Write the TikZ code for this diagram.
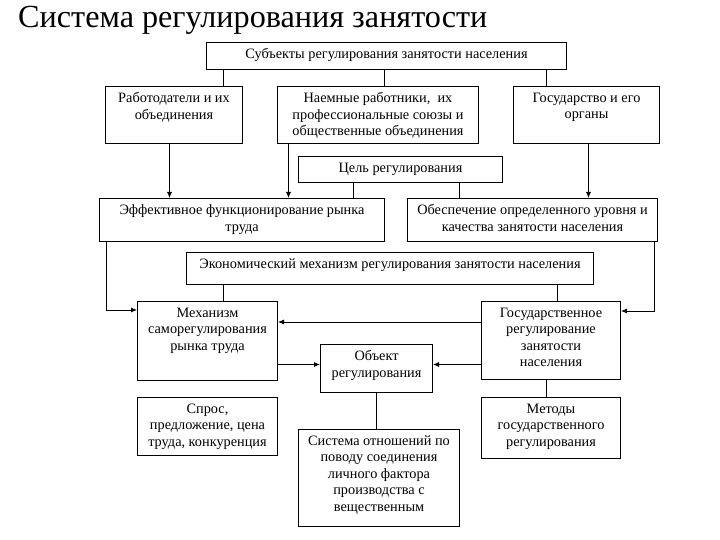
\documentclass[tikz,border=0pt]{standalone}
\usepackage{fontspec}
\setmainfont{Liberation Serif}
\usetikzlibrary{positioning, arrows.meta, calc}

\tikzset{
  box/.style={draw, line width=1bp, inner sep=0pt, anchor=north west},
  txt/.style={anchor=north, align=center, inner sep=0pt, font=\fontsize{14.3bp}{16.5bp}\selectfont},
  link/.style={line width=0.8bp},
  arr/.style={line width=0.8bp, -{Latex[length=6bp, width=5bp]}}
}

\begin{document}
\begin{tikzpicture}[x=1bp, y=-1bp]
\useasboundingbox (0,0) rectangle (720,540);

\node[anchor=base west, inner sep=0pt, font=\fontsize{32.2bp}{36bp}\selectfont] (title) at (18,28) {Система регулирования занятости};

% Subjects
\node[box, minimum width=360bp, minimum height=27bp] (subj) at (206,42) {};
\node[txt, below=6.5bp of subj.north] (subjtxt) {Субъекты регулирования занятости населения};

\node[box, minimum width=137bp, minimum height=57bp] (empl) at (105,86) {};
\node[txt, below=6.5bp of empl.north] (empltxt) {Работодатели и их\\объединения};
\node[box, minimum width=201bp, minimum height=57bp] (hired) at (277,86) {};
\node[txt, below=6.5bp of hired.north] (hiredtxt) {Наемные работники,\ \ их\\профессиональные союзы и\\общественные объединения};
\node[box, minimum width=146bp, minimum height=57bp] (state) at (513,86) {};
\node[txt, below=6.5bp of state.north] (statetxt) {Государство и его\\органы};

% Goal
\node[box, minimum width=204bp, minimum height=26bp] (goal) at (298,156) {};
\node[txt, below=6.5bp of goal.north] (goaltxt) {Цель регулирования};

\node[box, minimum width=285bp, minimum height=43bp] (eff) at (99,198) {};
\node[txt, below=6.5bp of eff.north] (efftxt) {Эффективное функционирование рынка\\труда};
\node[box, minimum width=250bp, minimum height=43bp] (prov) at (407,198) {};
\node[txt, below=6.5bp of prov.north] (provtxt) {Обеспечение определенного уровня и\\качества занятости населения};

% Mechanism
\node[box, minimum width=407bp, minimum height=32bp] (econ) at (186,252) {};
\node[txt, below=6.5bp of econ.north] (econtxt) {Экономический механизм регулирования занятости населения};

\node[box, minimum width=140bp, minimum height=79bp] (mech) at (137,301) {};
\node[txt, below=6.5bp of mech.north] (mechtxt) {Механизм\\саморегулирования\\рынка труда};
\node[box, minimum width=139bp, minimum height=78bp] (govreg) at (481,301) {};
\node[txt, below=6.5bp of govreg.north] (govregtxt) {Государственное\\регулирование\\занятости\\населения};
\node[box, minimum width=112bp, minimum height=48bp] (obj) at (320,344) {};
\node[txt, below=6.5bp of obj.north] (objtxt) {Объект\\регулирования};

\node[box, minimum width=140bp, minimum height=58bp] (dem) at (137,397) {};
\node[txt, below=6.5bp of dem.north] (demtxt) {Спрос,\\предложение, цена\\труда, конкуренция};
\node[box, minimum width=139bp, minimum height=61bp] (meth) at (481,397) {};
\node[txt, below=6.5bp of meth.north] (methtxt) {Методы\\государственного\\регулирования};
\node[box, minimum width=161bp, minimum height=97bp] (sys) at (298,429) {};
\node[txt, below=6.5bp of sys.north] (systxt) {Система отношений по\\поводу соединения\\личного фактора\\производства с\\вещественным};

% Connectors
\draw[link] ($(subj.south -| empl.north)+(49.5,0)$) -- ($(empl.north)+(49.5,0)$);
\draw[link] ($(subj.south -| hired.north)+(6.5,0)$) -- ($(hired.north)+(6.5,0)$);
\draw[link] ($(subj.south -| state.north)+(-40,0)$) -- ($(state.north)+(-40,0)$);

\draw[arr] ($(empl.south)+(-4.5,0)$) -- ($(eff.north -| empl.south)+(-4.5,0)$);
\draw[arr] ($(hired.south)+(-89.5,0)$) -- ($(eff.north -| hired.south)+(-89.5,0)$);
\draw[arr] ($(state.south)+(2,0)$) -- ($(prov.north -| state.south)+(2,0)$);

\draw[link] ($(goal.south)+(-47,0)$) -- ($(eff.north -| goal.south)+(-47,0)$);
\draw[link] ($(goal.south)+(59,0)$) -- ($(prov.north -| goal.south)+(59,0)$);

\draw[arr] ($(eff.south west)+(7,0)$) |- ($(mech.north west)+(0,9)$);
\draw[arr] ($(prov.south east)+(-4,0)$) |- ($(govreg.north east)+(0,10)$);

\draw[link] ($(econ.south -| mech.north)+(16,0)$) -- ($(mech.north)+(16,0)$);
\draw[link] ($(econ.south -| govreg.north)+(6.5,0)$) -- ($(govreg.north)+(6.5,0)$);

\draw[arr] ($(govreg.north west)+(0,21)$) -- ($(mech.east |- govreg.north)+(0,21)$);
\draw[arr] ($(mech.east |- obj.west)+(0,-4)$) -- ($(obj.west)+(0,-4)$);
\draw[arr] ($(govreg.west |- obj.east)+(0,-4)$) -- ($(obj.east)+(0,-4)$);

\draw[link] (obj.south) -- (obj.south |- sys.north);
\draw[link] ($(govreg.south)+(-4.5,0)$) -- ($(meth.north -| govreg.south)+(-4.5,0)$);
\end{tikzpicture}
\end{document}
